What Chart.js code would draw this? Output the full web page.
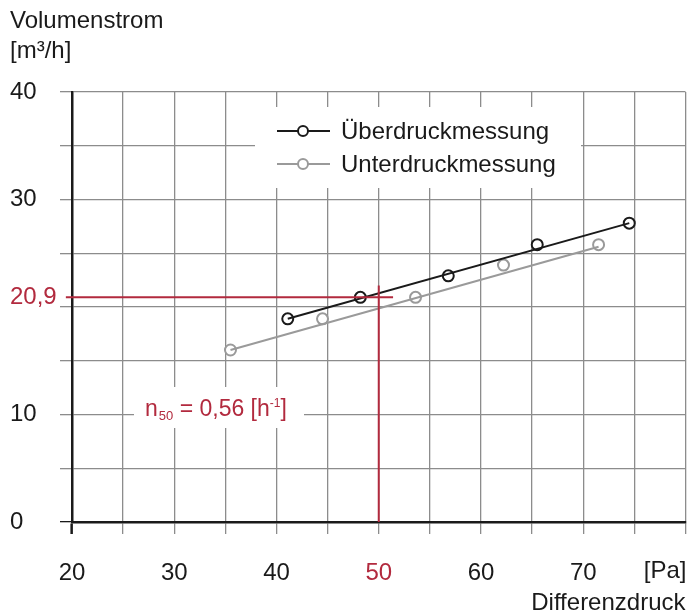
<!DOCTYPE html>
<html lang="de">
<head>
    <meta charset="UTF-8">
    <title>Volumenstrom / Differenzdruck</title>
    <script src="https://cdn.jsdelivr.net/npm/chart.js"></script>
    <style>
        html, body { margin: 0; padding: 0; background: #fff; overflow: hidden; }
        canvas { display: block; }
    </style>
</head>
<body>
    <canvas id="chart" width="693" height="615"></canvas>

    <script>
        // Messpunkte [Pa] / [m3/h]
        const ueberX = [41.1, 48.2, 56.8, 65.5, 74.5];
        const ueberY = [18.9, 20.9, 22.9, 25.8, 27.8];
        const unterX = [35.5, 44.5, 53.6, 62.2, 71.5];
        const unterY = [16.0, 18.9, 20.9, 23.9, 25.8];

        // Ausgleichsgeraden (Anfang, Ende)
        const ueberFitX = [41.1, 74.5];
        const ueberFitY = [18.9, 27.8];
        const unterFitX = [35.5, 71.5];
        const unterFitY = [16.0, 25.6];

        // n50-Ablesung
        const readX = [19.4, 51.4];
        const readY = 20.9;
        const readTopY = 22.0;
        const readPa = 50;

        const xTickLabels = [20, 30, 40, 50, 60, 70];
        const yTickLabels = [0, 10, 30, 40];

        const RED = "#b22a3e";
        const GRAY = "#9a9a9a";
        const GRID = "#8c8c8c";
        const INK = "#1a1a1a";
        const FONT = "'Liberation Sans', Arial, sans-serif";

        const pts = (xs, ys) => xs.map((x, i) => ({ x: x, y: ys[i] }));

        const overlay = {
            id: "overlay",
            beforeDatasetsDraw(chart) {
                const ctx = chart.ctx;
                ctx.save();
                // Legende
                ctx.fillStyle = "#fff";
                ctx.fillRect(255, 107, 326, 81);
                const rows = [["Überdruckmessung", INK, 131], ["Unterdruckmessung", GRAY, 164]];
                rows.forEach(([txt, col, y]) => {
                    ctx.strokeStyle = col;
                    ctx.lineWidth = 2;
                    ctx.beginPath();
                    ctx.moveTo(277, y);
                    ctx.lineTo(330, y);
                    ctx.stroke();
                    ctx.beginPath();
                    ctx.arc(303, y, 5, 0, Math.PI * 2);
                    ctx.fillStyle = "#fff";
                    ctx.fill();
                    ctx.stroke();
                    ctx.fillStyle = INK;
                    ctx.font = "24px " + FONT;
                    ctx.textBaseline = "middle";
                    ctx.textAlign = "left";
                    ctx.fillText(txt, 341, y + 1);
                });

                // n50-Beschriftung
                ctx.fillStyle = "#fff";
                ctx.fillRect(134, 387, 170, 41);
                ctx.fillStyle = RED;
                ctx.textBaseline = "alphabetic";
                let x = 145;
                const base = 416;
                ctx.font = "23px " + FONT;
                ctx.fillText("n", x, base);
                x += ctx.measureText("n").width + 1;
                ctx.font = "13px " + FONT;
                ctx.fillText("50", x, base + 4);
                x += ctx.measureText("50").width;
                ctx.font = "23px " + FONT;
                ctx.fillText(" = 0,56 [h", x, base);
                x += ctx.measureText(" = 0,56 [h").width;
                ctx.font = "12px " + FONT;
                ctx.fillText("-1", x, base - 9);
                x += ctx.measureText("-1").width;
                ctx.font = "23px " + FONT;
                ctx.fillText("]", x, base);

                // Einheit x
                ctx.fillStyle = INK;
                ctx.font = "24px " + FONT;
                ctx.textAlign = "right";
                ctx.textBaseline = "middle";
                ctx.fillText("[Pa]", chart.chartArea.right + 1, 571);
                ctx.restore();
            }
        };

        new Chart(document.getElementById("chart"), {
            type: "scatter",
            data: {
                datasets: [
                    {
                        data: pts(readX, [readY, readY]),
                        showLine: true, borderColor: RED, borderWidth: 2,
                        pointRadius: 0, clip: false
                    },
                    {
                        data: pts([readPa, readPa], [0, readTopY]),
                        showLine: true, borderColor: RED, borderWidth: 2,
                        pointRadius: 0, clip: false
                    },
                    {
                        data: pts(unterFitX, unterFitY),
                        showLine: true, borderColor: GRAY, borderWidth: 2, pointRadius: 0
                    },
                    {
                        data: pts(ueberFitX, ueberFitY),
                        showLine: true, borderColor: INK, borderWidth: 2, pointRadius: 0
                    },
                    {
                        label: "Unterdruckmessung",
                        data: pts(unterX, unterY),
                        pointRadius: 5.5, pointBorderWidth: 2,
                        borderColor: GRAY, backgroundColor: "#fff"
                    },
                    {
                        label: "Überdruckmessung",
                        data: pts(ueberX, ueberY),
                        pointRadius: 5.5, pointBorderWidth: 2,
                        borderColor: INK, backgroundColor: "#fff"
                    }
                ]
            },
            options: {
                responsive: false,
                animation: false,
                layout: { padding: { left: 10, right: 0, top: 0, bottom: 0 } },
                plugins: {
                    legend: { display: false },
                    tooltip: { enabled: false },
                    title: {
                        display: true,
                        align: "start",
                        text: ["Volumenstrom", "[m³/h]"],
                        color: INK,
                        font: { family: FONT, size: 24, weight: "normal", lineHeight: 1.25 },
                        padding: { top: 6, bottom: 26 }
                    }
                },
                scales: {
                    x: {
                        type: "linear",
                        min: 20, max: 80,
                        afterFit: s => {
                            s.height = 93;
                            s.paddingRight = 0;
                        },
                        ticks: {
                            stepSize: 5,
                            padding: 3,
                            maxRotation: 0,
                            autoSkip: false,
                            font: { family: FONT, size: 24, lineHeight: 3.0 },
                            color: c => c.tick && c.tick.value === readPa ? RED : INK,
                            callback: v => xTickLabels.includes(v) ? String(v) : ""
                        },
                        grid: {
                            color: GRID,
                            lineWidth: 1.3,
                            tickLength: 12,
                            tickColor: c => c.tick && c.tick.value === 20 ? INK : GRID,
                            tickWidth: c => c.tick && c.tick.value === 20 ? 2.5 : 1.3
                        },
                        border: { color: INK, width: 2.5 },
                        title: {
                            display: true,
                            text: "Differenzdruck",
                            align: "end",
                            color: INK,
                            font: { family: FONT, size: 24, lineHeight: 1.0 },
                            padding: { top: 0, bottom: 0 }
                        }
                    },
                    y: {
                        min: 0, max: 40,
                        afterFit: s => { s.width = 62; },
                        afterBuildTicks: s => {
                            const t = [];
                            for (let v = 0; v <= 40; v += 5) t.push({ value: v });
                            t.push({ value: readY });
                            t.sort((a, b) => a.value - b.value);
                            s.ticks = t;
                        },
                        ticks: {
                            crossAlign: "far",
                            padding: 6,
                            font: { family: FONT, size: 24 },
                            color: c => c.tick && c.tick.value === readY ? RED : INK,
                            callback: v => v === readY ? "20,9" : (yTickLabels.includes(v) ? String(v) : "")
                        },
                        grid: {
                            color: c => c.tick && c.tick.value === readY ? "rgba(0,0,0,0)" : GRID,
                            lineWidth: 1.3,
                            tickLength: 12,
                            tickColor: c => c.tick && c.tick.value === readY ? "rgba(0,0,0,0)" : (c.tick && c.tick.value === 0 ? INK : GRID)
                        },
                        border: { color: INK, width: 2.5 }
                    }
                }
            },
            plugins: [overlay]
        });
    </script>
</body>
</html>
